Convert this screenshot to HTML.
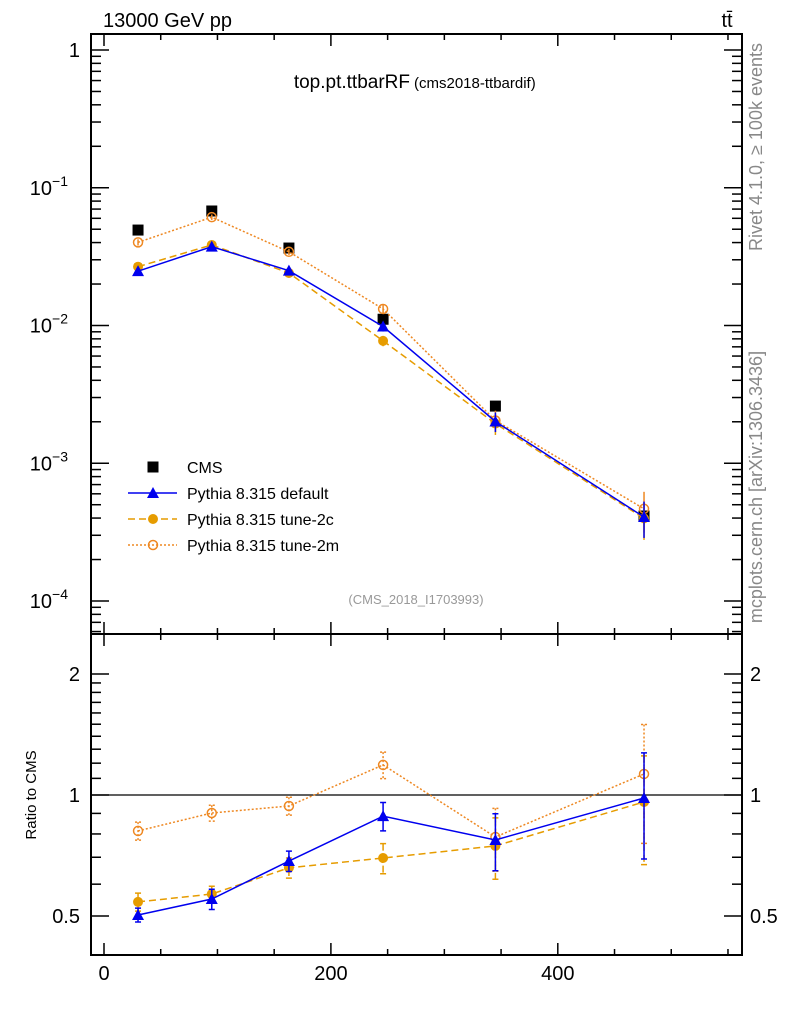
<!DOCTYPE html>
<html><head><meta charset="utf-8"><style>
html,body{margin:0;padding:0;background:#fff;}
svg{display:block;font-family:"Liberation Sans",sans-serif;}
</style></head><body>
<svg id="chart" width="786" height="1024" viewBox="0 0 786 1024" xmlns="http://www.w3.org/2000/svg">
<text x="103" y="27" font-size="20">13000 GeV pp</text>
<text x="727" y="27" font-size="20" text-anchor="middle">tt̄</text>
<text x="410" y="88" font-size="19" text-anchor="end">top.pt.ttbarRF</text>
<text x="414" y="88" font-size="15">(cms2018-ttbardif)</text>
<text x="416" y="604" font-size="13" fill="#999" text-anchor="middle">(CMS_2018_I1703993)</text>
<text transform="translate(762,147) rotate(-90)" font-size="18" fill="#888" text-anchor="middle">Rivet 4.1.0, ≥ 100k events</text>
<text transform="translate(762,487) rotate(-90)" font-size="18" fill="#888" text-anchor="middle">mcplots.cern.ch [arXiv:1306.3436]</text>
<text transform="translate(36,795) rotate(-90)" font-size="15" text-anchor="middle">Ratio to CMS</text>
<g id="axes"></g>
<g id="marks"></g>
<g id="legend"></g>
</svg>
<script>
const xCenters = [30, 95, 163, 246, 345, 476];
const cmsValues = [0.0493, 0.0678, 0.0365, 0.0111, 0.0026, 0.000414];
const ratioDefault = [0.503, 0.551, 0.685, 0.886, 0.773, 0.983];
const ratioTune2c = [0.542, 0.567, 0.659, 0.697, 0.747, 0.961];
const ratioTune2m = [0.814, 0.902, 0.939, 1.188, 0.786, 1.128];
const errDefault = [0.02, 0.032, 0.04, 0.072, 0.125, 0.29];
const errTune2c = [0.028, 0.026, 0.038, 0.06, 0.13, 0.29];
const errTune2m = [0.042, 0.041, 0.048, 0.09, 0.14, 0.37];
const xTicks = [0, 200, 400];
const yTicksMain = [0, -1, -2, -3, -4];
const yTicksRatio = [2, 1, 0.5];

const NS = "http://www.w3.org/2000/svg";
const L = 91, R = 742, T1 = 34, B1 = 634, B2 = 955;
const xS = v => 104 + v * 1.1345;
const yM = v => 50 - Math.log10(v) * 137.75;
const yR = v => 795 - Math.log2(v) * 121;
function mk(tag, attrs, parent) {
  const e = document.createElementNS(NS, tag);
  for (const k in attrs) e.setAttribute(k, attrs[k]);
  parent.appendChild(e);
  return e;
}
const axes = document.getElementById('axes');
const marks = document.getElementById('marks');
const legend = document.getElementById('legend');

let f1 = mk('rect', {x: L, y: T1, width: R - L, height: B1 - T1, fill: 'none', stroke: '#000', 'stroke-width': 2}, axes);


let f2 = mk('rect', {x: L, y: B1, width: R - L, height: B2 - B1, fill: 'none', stroke: '#000', 'stroke-width': 2}, axes);



for (let v = 0; v <= 550; v += 50) {
  const x = xS(v), big = v % 200 === 0, len = big ? 12 : 6;
  [[T1, 1], [B1, -1], [B1, 1], [B2, -1]].forEach(([y, d]) => {
    const t = mk('line', {x1: x, x2: x, y1: y, y2: y + d * len, stroke: '#000', 'stroke-width': 1.5}, axes);
    
    
  });
}
xTicks.forEach(v => {
  const t = mk('text', {x: xS(v), y: 980, 'font-size': 20, 'text-anchor': 'middle'}, axes);
  t.textContent = v;
  
  
});

for (let d = -5; d <= 0; d++) {
  for (let m = 1; m <= 9; m++) {
    const y = yM(m * Math.pow(10, d));
    if (y < T1 || y > B1) continue;
    const len = m === 1 ? 18 : 10;
    [[L, 1], [R, -1]].forEach(([x, s]) => {
      const t = mk('line', {x1: x, x2: x + s * len, y1: y, y2: y, stroke: '#000', 'stroke-width': 1.5}, axes);
      
      
    });
  }
}
yTicksMain.forEach(e => {
  const t = mk('text', {x: 80, y: yM(Math.pow(10, e)) + 7, 'font-size': 20, 'text-anchor': 'end'}, axes);
  
  
  if (e === 0) t.textContent = '1';
  else {
    t.textContent = '10';
    const s = mk('tspan', {dy: -9, 'font-size': 14}, t);
    s.textContent = '−' + (-e);
    t.setAttribute('x', 68);
  }
});

[0.5, 0.6, 0.7, 0.8, 0.9, 1, 1.1, 1.2, 1.3, 1.4, 1.5, 1.6, 1.7, 1.8, 1.9, 2].forEach(v => {
  const y = yR(v), big = (v === 0.5 || v === 1 || v === 2), len = big ? 18 : 10;
  [[L, 1], [R, -1]].forEach(([x, s]) => {
    const t = mk('line', {x1: x, x2: x + s * len, y1: y, y2: y, stroke: '#000', 'stroke-width': 1.5}, axes);
    
    
  });
});
yTicksRatio.forEach(v => {
  [[80, 'end'], [750, 'start']].forEach(([x, a]) => {
    const t = mk('text', {x: x, y: yR(v) + 7, 'font-size': 20, 'text-anchor': a}, axes);
    t.textContent = v;
    
    
  });
});
let ref = mk('line', {x1: L, x2: R, y1: yR(1), y2: yR(1), stroke: '#000', 'stroke-width': 1.2}, axes);



function marker(kind, x, y, col, parent) {
  let e;
  if (kind === 'square') e = mk('rect', {x: x - 5.5, y: y - 5.5, width: 11, height: 11, fill: '#000'}, parent);
  else if (kind === 'tri') e = mk('polygon', {points: `${x},${y - 6} ${x - 6},${y + 5} ${x + 6},${y + 5}`, fill: col}, parent);
  else if (kind === 'dot') e = mk('circle', {cx: x, cy: y, r: 5, fill: col}, parent);
  else e = mk('circle', {cx: x, cy: y, r: 4.5, fill: 'none', stroke: col, 'stroke-width': 1.5}, parent);
  return e;
}
const series = [
  {name: 'default', ratio: ratioDefault, err: errDefault, col: '#0000ee', dash: '', kind: 'tri', label: 'Pythia 8.315 default'},
  {name: 'tune-2c', ratio: ratioTune2c, err: errTune2c, col: '#e69c00', dash: '7,4', kind: 'dot', label: 'Pythia 8.315 tune-2c'},
  {name: 'tune-2m', ratio: ratioTune2m, err: errTune2m, col: '#ee8822', dash: '2,2', kind: 'open', label: 'Pythia 8.315 tune-2m'}
];

cmsValues.forEach((v, i) => {
  const m = marker('square', xS(xCenters[i]), yM(v), '#000', marks);
  
  
});

series.slice().reverse().forEach(s => {
  const g = mk('g', {}, marks);
  
  
  const mc = s.ratio.map((r, i) => r * cmsValues[i]);
  const ptsM = mc.map((v, i) => xS(xCenters[i]) + ',' + yM(v)).join(' ');
  const ptsR = s.ratio.map((v, i) => xS(xCenters[i]) + ',' + yR(v)).join(' ');
  [ptsM, ptsR].forEach((p, k) => {
    const l = mk('polyline', {points: p, fill: 'none', stroke: s.col, 'stroke-width': 1.5, 'stroke-dasharray': s.dash}, g);
    
    
  });
  s.ratio.forEach((r, i) => {
    const x = xS(xCenters[i]);
    const e = s.err[i];
    const y1 = yR(r + e), y2 = yR(Math.max(r - e, 0.05));
    const eb = mk('path', {d: `M${x},${y1}V${y2}M${x - 3},${y1}H${x + 3}M${x - 3},${y2}H${x + 3}`, stroke: s.col, 'stroke-width': 1.5, fill: 'none', 'stroke-dasharray': s.dash}, g);
    
    
    const eb2 = mk('path', {d: `M${x},${yM(mc[i] * (1 + e / r))}V${yM(mc[i] * (1 - e / r))}`, stroke: s.col, 'stroke-width': 1.5, fill: 'none'}, g);
    
    
    const m1 = marker(s.kind, x, yM(mc[i]), s.col, g);
    
    
    const m2 = marker(s.kind, x, yR(r), s.col, g);
    
    
  });
});

const rows = [{kind: 'square', col: '#000', dash: null, label: 'CMS'}].concat(series);
rows.forEach((s, i) => {
  const y = 467 + i * 26;
  const g = mk('g', {}, legend);
  
  
  if (s.dash !== null) mk('line', {x1: 128, x2: 177, y1: y, y2: y, stroke: s.col, 'stroke-width': 1.5, 'stroke-dasharray': s.dash}, g);
  marker(s.kind, 153, y, s.col, g);
  const t = mk('text', {x: 187, y: y + 6, 'font-size': 16}, g);
  t.textContent = s.label;
});
</script>
</body></html>
